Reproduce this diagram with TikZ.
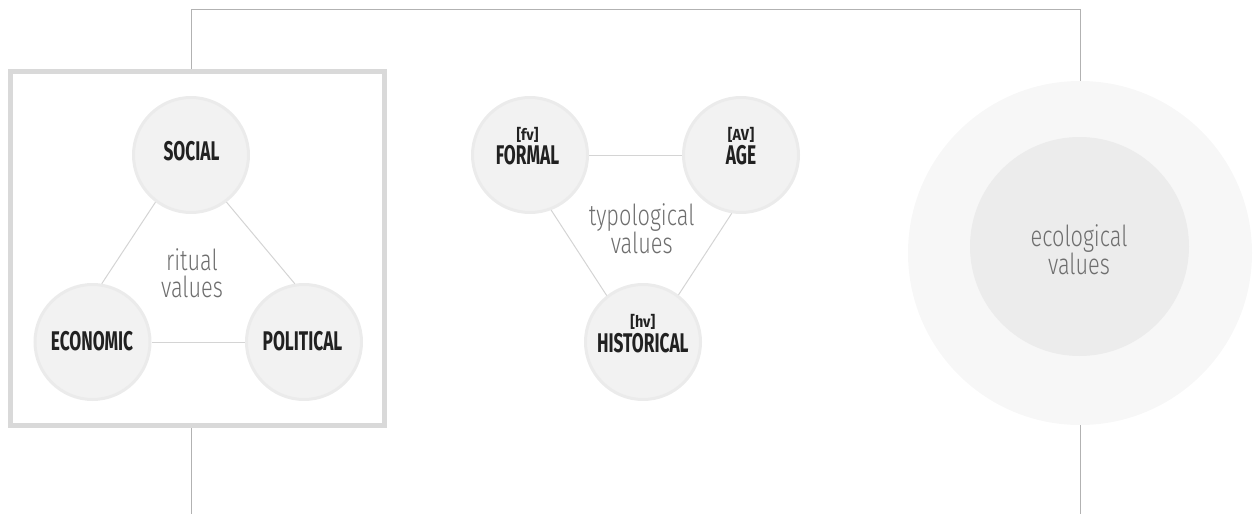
\documentclass[tikz,border=0pt]{standalone}
\usepackage{fontspec}
\setmainfont{Fira Sans}
\newfontfamily\labelfont[FakeStretch=0.64]{Fira Sans}
\newfontfamily\smallfont[FakeStretch=0.9]{Fira Sans}
\newfontfamily\thinfont[FakeStretch=0.75]{Fira Sans Light}
\begin{document}
\begin{tikzpicture}[x=1pt,y=-1pt,
  frame/.style={draw=black!30, line width=1pt},
  boxframe/.style={draw=black!15, line width=5pt, inner sep=0pt},
  valcirc/.style={circle, fill=black!5, draw=black!8, line width=3pt, minimum size=115pt, inner sep=0pt},
  lbl/.style={anchor=base, inner sep=0pt, text=black!87, font=\labelfont\bfseries\fontsize{27}{27}\selectfont},
  smalllbl/.style={anchor=base, inner sep=0pt, text=black!87, font=\smallfont\bfseries\fontsize{16}{16}\selectfont},
  link/.style={draw=black!17, line width=1pt},
  valtext/.style={anchor=base, inner sep=0pt, text=black!57, font=\thinfont\fontsize{29}{29}\selectfont}
]
\useasboundingbox (0,0) rectangle (1254,514);

% ritual box
\node[boxframe, minimum width=374pt, minimum height=354pt] (box) at (197.5,248.5) {};

% ecological circles
\node[circle, fill=black!3, minimum size=344pt, inner sep=0pt] (ecoout) at (1080,253) {};
\node[circle, fill=black!7.5, minimum size=219pt, inner sep=0pt] (ecoin) at (1079.5,246.5) {};

% frame lines
\coordinate (ltop) at (191,69);
\coordinate (rtop) at (1080,9);
\coordinate (lbot) at (191,428);
\coordinate (lend) at (191,514);
\coordinate (rend) at (1080,514);
\draw[frame] (ltop) |- (rtop) -- (ecoout.north);
\draw[frame] (lbot) -- (lend);
\draw[frame] (ecoout.south) -- (rend);

% ritual values
\node[valcirc] (social) at (191,155) {};
\node[valcirc] (economic) at (92.5,342) {};
\node[valcirc] (political) at (304,342) {};
\draw[link] (social.-127) -- (economic.81);
\draw[link] (social.-53) -- (political.99);
\draw[link] (economic.east) -- (political.west);
\node[lbl] (socialt) at (191.5,160) {SOCIAL};
\node[lbl] (economict) at (92,350) {ECONOMIC};
\node[lbl] (politicalt) at (302.5,350) {POLITICAL};
\node[valtext] (ritual1) at (192,270.7) {ritual};
\node[valtext] (ritual2) at (192,297.3) {values};

% typological values
\node[valcirc] (formal) at (530,155) {};
\node[valcirc] (age) at (741,155) {};
\node[valcirc] (historical) at (643,342) {};
\draw[link] (formal.east) -- (age.west);
\draw[link] (formal.-69) -- (historical.128);
\draw[link] (age.-99) -- (historical.53);
\node[smalllbl] (fvt) at (527.5,140.5) {[fv]};
\node[lbl] (formalt) at (527.5,164.3) {FORMAL};
\node[smalllbl] (avt) at (741,140.5) {[AV]};
\node[lbl] (aget) at (741,164.3) {AGE};
\node[smalllbl] (hvt) at (642.8,327.5) {[hv]};
\node[lbl] (historicalt) at (642.8,352.7) {HISTORICAL};
\node[valtext] (typo1) at (641.7,225.5) {typological};
\node[valtext] (typo2) at (641.7,253.2) {values};

% ecological text
\node[valtext] (eco1) at (1079,246.7) {ecological};
\node[valtext] (eco2) at (1079,274) {values};
\end{tikzpicture}
\end{document}
